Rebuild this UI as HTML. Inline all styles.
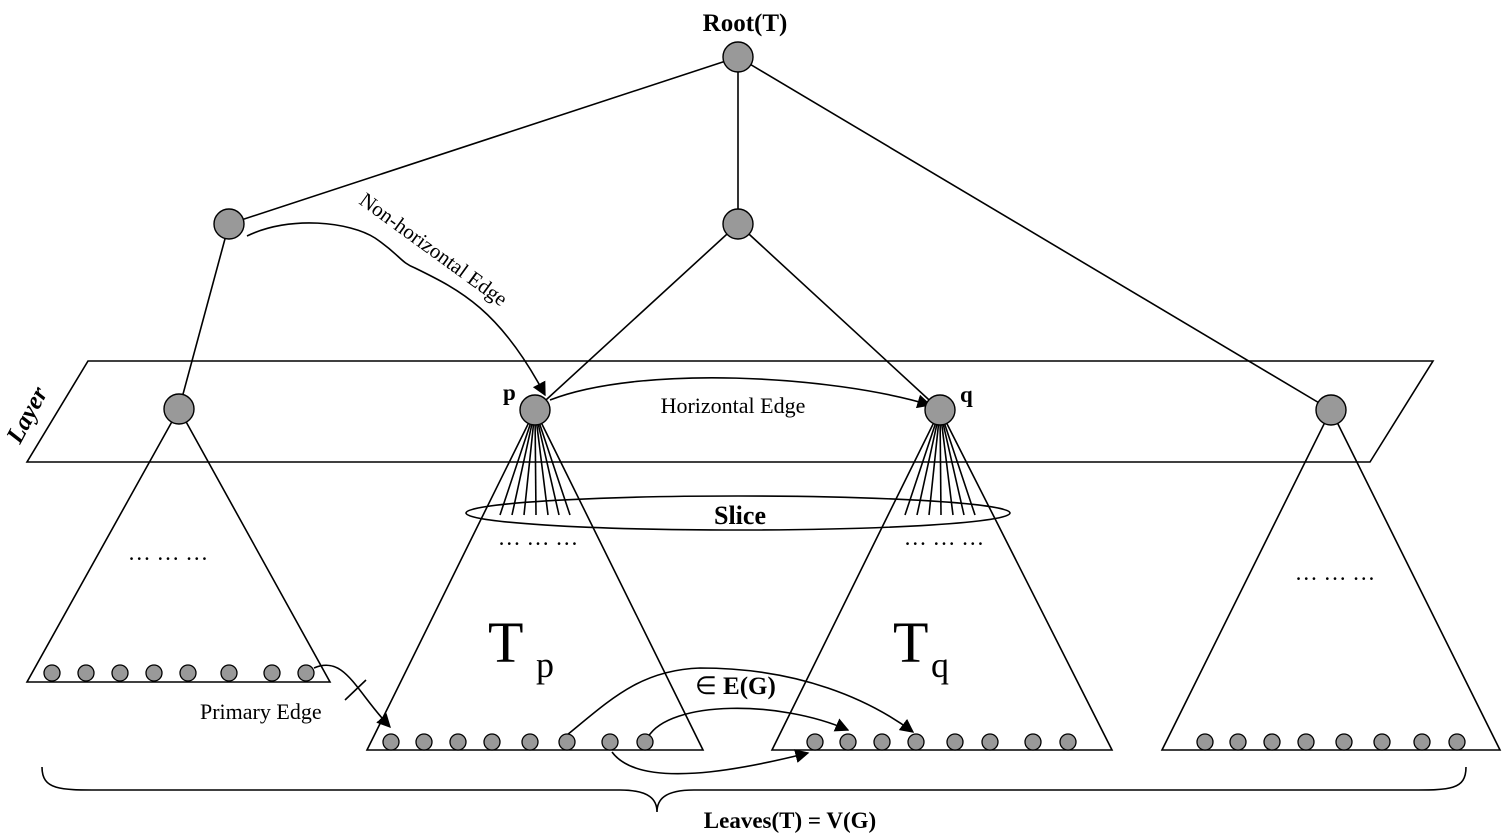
<!DOCTYPE html>
<html><head><meta charset="utf-8"><style>
html,body{margin:0;padding:0;background:#fff;}
svg{display:block;font-family:"Liberation Serif",serif;}
</style></head><body>
<svg width="1509" height="840" viewBox="0 0 1509 840">
<defs><marker id="ar" viewBox="0 0 10 10" refX="9" refY="5" markerWidth="14" markerHeight="14" markerUnits="userSpaceOnUse" orient="auto"><path d="M0,0L10,5L0,10z" fill="#000"/></marker></defs>
<g stroke="#000" stroke-width="1.6" fill="none">
<polygon points="88,361 1433,361 1370,462 27,462"/>
<g>
<line x1="738" y1="57" x2="229" y2="224"/><line x1="738" y1="57" x2="738" y2="224"/><line x1="738" y1="57" x2="1331" y2="410"/>
<line x1="229" y1="224" x2="179" y2="409"/><line x1="738" y1="224" x2="535" y2="410"/><line x1="738" y1="224" x2="940" y2="410"/>
</g>
<polygon points="179,409 330,682 27,682"/>
<polygon points="535,410 703,750 367,750"/>
<polygon points="940,410 1112,750 772,750"/>
<polygon points="1331,410 1500,750 1162,750"/>
<g>
<line x1="535" y1="410" x2="500" y2="515"/><line x1="535" y1="410" x2="512" y2="515"/><line x1="535" y1="410" x2="524" y2="515"/><line x1="535" y1="410" x2="536" y2="515"/><line x1="535" y1="410" x2="548" y2="515"/><line x1="535" y1="410" x2="559" y2="515"/><line x1="535" y1="410" x2="570" y2="515"/></g>
<g>
<line x1="940" y1="410" x2="905" y2="515"/><line x1="940" y1="410" x2="917" y2="515"/><line x1="940" y1="410" x2="929" y2="515"/><line x1="940" y1="410" x2="941" y2="515"/><line x1="940" y1="410" x2="953" y2="515"/><line x1="940" y1="410" x2="964" y2="515"/><line x1="940" y1="410" x2="975" y2="515"/></g>
<ellipse cx="738" cy="513" rx="272" ry="17"/>
<path d="M247,236 C290,215 350,222 375,238 C400,255 400,262 415,268 C460,290 500,310 545,395" marker-end="url(#ar)"/>
<path d="M550,400 C640,365 830,375 930,405" marker-end="url(#ar)"/>
<path d="M314,668 C345,655 355,690 390,727" marker-end="url(#ar)"/>
<line x1="345" y1="700" x2="366" y2="680"/>
<path d="M567,735 C610,700 640,670 700,668 C800,668 870,700 913,732" marker-end="url(#ar)"/>
<path d="M648,737 C670,700 780,700 848,730" marker-end="url(#ar)"/>
<path d="M612,752 C640,790 740,770 808,753" marker-end="url(#ar)"/>
<path d="M42,767 C42,790 60,790 100,790 L620,790 C650,790 657,800 657,812 C657,800 664,790 694,790 L1410,790 C1450,790 1466,790 1466,767"/>
</g>
<g fill="#999" stroke="#000" stroke-width="1.4">
<circle cx="738" cy="57" r="15"/>
<circle cx="229" cy="224" r="15"/>
<circle cx="738" cy="224" r="15"/>
<circle cx="179" cy="409" r="15"/>
<circle cx="535" cy="410" r="15"/>
<circle cx="940" cy="410" r="15"/>
<circle cx="1331" cy="410" r="15"/>
</g>
<g id="leaves" fill="#999" stroke="#000" stroke-width="1.3"></g>
<g font-size="23">
<text x="745" y="31" text-anchor="middle" font-weight="bold" font-size="25">Root(T)</text>
<text x="358" y="203" transform="rotate(36 358 203)" font-size="21">Non-horizontal Edge</text>
<text x="733" y="413" text-anchor="middle" font-size="22">Horizontal Edge</text>
<text x="503" y="400" font-weight="bold">p</text>
<text x="960" y="402" font-weight="bold">q</text>
<text x="20" y="445" transform="rotate(-62 20 445)" font-weight="bold" font-style="italic" font-size="25">Layer</text>
<text x="740" y="524" text-anchor="middle" font-weight="bold" font-size="26">Slice</text>
<text x="168" y="560" text-anchor="middle">… … …</text>
<text x="538" y="545" text-anchor="middle">… … …</text>
<text x="944" y="545" text-anchor="middle">… … …</text>
<text x="1335" y="580" text-anchor="middle">… … …</text>
<text x="488" y="662" font-size="58">T</text><text x="536" y="677" font-size="36">p</text>
<text x="893" y="662" font-size="58">T</text><text x="931" y="677" font-size="36">q</text>
<text x="695" y="694" font-size="25"><tspan>∈ </tspan><tspan font-weight="bold">E(G)</tspan></text>
<text x="200" y="719" font-size="22">Primary Edge</text>
<text x="790" y="828" text-anchor="middle" font-weight="bold" font-size="23">Leaves(T) = V(G)</text>
</g>
<script>
const leafRowY=[673,742,742,742];
const leafXs=[[52,86,120,154,188,229,272,306],[391,424,458,492,530,567,610,645],[815,848,882,916,955,990,1033,1068],[1205,1238,1272,1306,1344,1382,1422,1457]];
const g=document.getElementById('leaves');
leafXs.forEach((row,i)=>row.forEach(x=>{
const c=document.createElementNS('http://www.w3.org/2000/svg','circle');
c.setAttribute('cx',x);c.setAttribute('cy',leafRowY[i]);c.setAttribute('r',8);


g.appendChild(c);}));
</script>
</svg>
</body></html>
